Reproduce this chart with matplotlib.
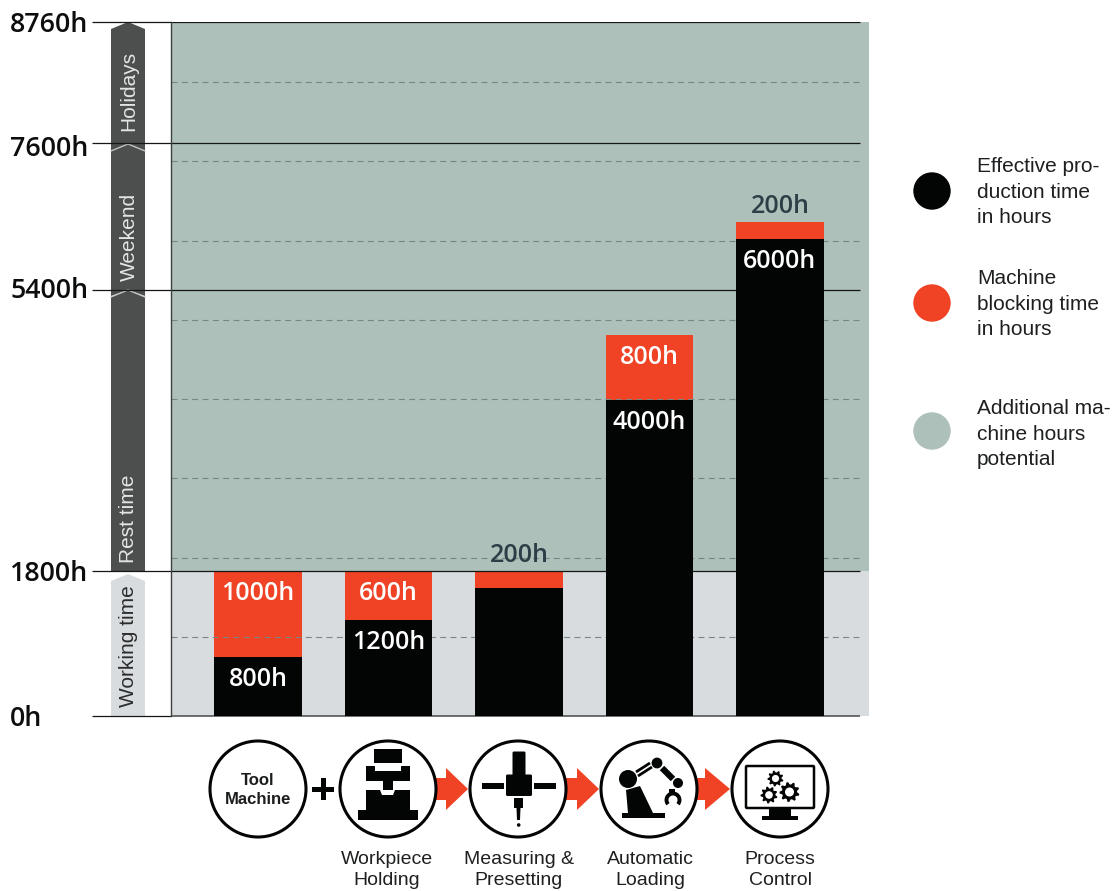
import numpy as np
import matplotlib
matplotlib.use('Agg')
import matplotlib.pyplot as plt
from matplotlib.patches import Circle, Polygon, FancyBboxPatch, Arc

# values (the hour axis is not quite true to its labels)
stations = ['Tool Machine', 'Workpiece Holding', 'Measuring & Presetting', 'Automatic Loading', 'Process Control']
effective = [745, 1212, 1616, 3989, 6021]
blocking = [1085, 618, 214, 820, 215]
effective_labels = ['800h', '1200h', '', '4000h', '6000h']
blocking_labels = ['1000h', '600h', '200h', '800h', '200h']
blocking_label_above = [False, False, True, False, True]

levels = [0, 1830, 5377, 7233, 8760]
level_labels = ['0h', '1800h', '5400h', '7600h', '8760h']
level_nudge = [-3, -3, -1, -6, -3]
grid_hours = [1000, 2000, 3000, 4000, 5000, 6000, 7000, 8000]

BLACK = '#030404'
RED = '#f04224'
GREEN = '#adc0b9'
GREY = '#d9dcdf'
DARK = '#4d4f4e'

W, H = 1116, 891
fig = plt.figure(figsize=(W / 100, H / 100), dpi=100)

# background layer in pixel coordinates, for everything that is not on the hour scale
bg = fig.add_axes([0, 0, 1, 1], zorder=0)
bg.set_xlim(0, W)
bg.set_ylim(H, 0)
bg.axis('off')

# main chart: bars are 130.5 px apart, first one centred on x=258
left, right, top, bottom = 171, 869, 22, 716
ax = fig.add_axes([left / W, 1 - bottom / H, (right - left) / W, (bottom - top) / H], zorder=1)
ax.patch.set_visible(False)
xmin = (left - 258) / 130.5
xmax = (right - 258) / 130.5
xline = (860.5 - 258) / 130.5
ax.set_xlim(xmin, xmax)
ax.set_ylim(0, 8760)

ax.axhspan(0, levels[1], color=GREY, lw=0, zorder=0)
ax.axhspan(levels[1], 8760, color=GREEN, lw=0, zorder=0)
ax.hlines(grid_hours, xmin, xline, colors='#7b8583', lw=0.8, linestyles=(0, (5.4, 3.9)), zorder=2)
ax.hlines(levels[1:], xmin, xline, colors='#151717', lw=0.9, zorder=2)
ax.hlines(0, xmin, xline, colors='#555', lw=1.2, zorder=2, clip_on=False)

x = np.arange(len(stations))
ax.bar(x, effective, width=0.674, color=BLACK, zorder=3)
ax.bar(x, blocking, width=0.674, bottom=effective, color=RED, zorder=1)

for i in x:
    val_font = dict(family='Open Sans', weight='semibold', fontsize=18, ha='center', va='center')
    if effective_labels[i]:
        ax.annotate(effective_labels[i], (i, effective[i]), xytext=(0, -16.5), textcoords='offset points',
                    color='white', zorder=5, **val_font)
    tip = effective[i] + blocking[i]
    if blocking_label_above[i]:
        ax.annotate(blocking_labels[i], (i, tip), xytext=(0, 11), textcoords='offset points',
                    color='#2c3f47', zorder=5, **val_font)
    else:
        ax.annotate(blocking_labels[i], (i, tip), xytext=(0, -16.5), textcoords='offset points',
                    color='white', zorder=5, **val_font)

for s in ['top', 'right', 'bottom']:
    ax.spines[s].set_visible(False)
ax.spines['left'].set_color('#3c4040')
ax.spines['left'].set_linewidth(1)
ax.set_xticks([])
ax.set_yticks(levels)
ax.set_yticklabels([])
ax.tick_params(axis='y', length=57, width=0.9, color='#151717')

for lev, lab, nudge in zip(levels, level_labels, level_nudge):
    ax.annotate(lab, (0, lev), xycoords=ax.get_yaxis_transform(),
                xytext=(10 - left, nudge), textcoords='offset pixels',
                family='Open Sans', weight='semibold', fontsize=19.3, color='#0c0d0d',
                ha='left', va='center', annotation_clip=False)

# time column on the left
def column(y_top, y_bottom, notch, color):
    pts = [(111, y_top + 7), (128, y_top), (145, y_top + 7), (145, y_bottom + notch), (128, y_bottom), (111, y_bottom + notch)]
    bg.add_patch(Polygon(pts, closed=True, fc=color, ec='none'))

column(22, 144, 7, DARK)
column(144, 290, 6, DARK)
column(290, 571, 0, DARK)
column(574, 716, 0, GREY)
for yy in [144, 290]:
    bg.plot([111, 128, 145], [yy + 7, yy, yy + 7], color='#c9cbca', lw=0.9)

side_font = dict(family='Liberation Sans', fontsize=15, rotation=90, ha='center', va='center')
bg.text(129, 91, 'Holidays', color='#e4e6e5', **side_font)
bg.text(129, 237, 'Weekend', color='#e4e6e5', **side_font)
bg.text(129, 519, 'Rest time', color='#e4e6e5', **side_font)
bg.text(129, 646, 'Working time', color='#2a2c2d', **side_font)

# legend
legend_y = [191, 303, 431]
legend_text_y = [192, 304, 434]
legend_colors = [BLACK, RED, GREEN]
legend_text = ['Effective pro-\nduction time\nin hours', 'Machine\nblocking time\nin hours', 'Additional ma-\nchine hours\npotential']
for yy, ty, col, txt in zip(legend_y, legend_text_y, legend_colors, legend_text):
    bg.add_patch(Circle((932, yy), 18.7, fc=col, ec='none'))
    bg.text(977, ty, txt, family='Liberation Sans', fontsize=15, color='#1d1f20',
            ha='left', va='center', linespacing=1.42)

# process icons
cy = 789
centers = [258, 388, 518, 649, 780]

# arrows between the stations: (start, head base, tip)
for x0, xb, xt in [(434, 446, 468), (564, 577, 599), (695, 705, 730)]:
    pts = [(x0, cy - 11), (xb, cy - 11), (xb, cy - 21), (xt, cy), (xb, cy + 21), (xb, cy + 11), (x0, cy + 11)]
    bg.add_patch(Polygon(pts, closed=True, fc=RED, ec='none', zorder=1))

for c in centers:
    bg.add_patch(Circle((c, cy), 48, fc='white', ec=BLACK, lw=2.2, zorder=2))

def poly(cx, pts, color=BLACK, z=3):
    bg.add_patch(Polygon([(cx + a, cy + b) for a, b in pts], closed=True, fc=color, ec='none', zorder=z))

def box(cx, x0, y0, x1, y1, color=BLACK, z=3):
    poly(cx, [(x0, y0), (x1, y0), (x1, y1), (x0, y1)], color, z)

# Tool Machine
bg.text(258, 790, 'Tool\nMachine', family='Liberation Sans', weight='bold', fontsize=12, color='#1b1c1d',
        ha='center', va='center', linespacing=1.35, zorder=4)

# plus sign
box(323, -11, -2.5, 11, 2.5)
box(323, -2.5, -11, 2.5, 11)

# workpiece holding
c = centers[1]
box(c, -14, -40, 14, -26)
poly(c, [(-22, -23), (-13, -23), (-13, -18), (13, -18), (13, -23), (22, -23), (22, -8), (5, -8), (5, 1), (-5, 1), (-5, -8), (-22, -8)])
poly(c, [(-22, 1), (-8, 1), (-6, 6), (5, 6), (7, 1), (22, 1), (22, 21), (30, 21), (30, 31), (-30, 31), (-30, 21), (-22, 21)])

# measuring
c = centers[2]
bg.add_patch(FancyBboxPatch((c - 4, cy - 36), 10, 22, boxstyle='round,pad=1.5', fc=BLACK, ec='none', zorder=3))
bg.add_patch(FancyBboxPatch((c - 10.5, cy - 13), 23, 18.5, boxstyle='round,pad=1.5', fc=BLACK, ec='none', zorder=3))
box(c, -36, -6, -14, 0)
box(c, 16, -6, 38, 0)
box(c, -4, 9, 5, 19)
poly(c, [(-1.5, 19), (2.5, 19), (2, 31), (-1, 31)])
bg.add_patch(Circle((c + 0.7, cy + 36), 1.8, fc=BLACK, ec='none', zorder=3))

# robot arm
c = centers[3]
def link(p0, p1, lw):
    bg.plot([c + p0[0], c + p1[0]], [cy + p0[1], cy + p1[1]], color=BLACK, lw=lw, solid_capstyle='butt', zorder=3)

box(c, -27, 24, 16, 29)
poly(c, [(-23, 1), (-9, -3), (4, 24), (-21, 24)])
bg.add_patch(Circle((c - 21, cy - 10), 9, fc=BLACK, ec='none', zorder=3))
link((-13, -17), (1, -26), 2)
link((-11, -13), (3, -22), 2)
bg.add_patch(Circle((c + 8, cy - 26), 5.4, fc=BLACK, ec='none', zorder=3))
link((13, -21), (24, -10), 4.5)
bg.add_patch(Circle((c + 29, cy - 6), 5, fc=BLACK, ec='none', zorder=3))
bg.add_patch(Arc((c + 24, cy + 11), 13, 13, theta1=140, theta2=400, lw=2.8, color=BLACK, zorder=3))
box(c, 20, 0, 26, 5)

# process control monitor
c = centers[4]
bg.add_patch(FancyBboxPatch((c - 33, cy - 22), 66, 40, boxstyle='round,pad=1', fc='white', ec=BLACK, lw=1.8, zorder=3))
box(c, -11, 19, 11, 27)
box(c, -18, 27, 18, 31)

def gear(gx, gy, r, teeth=9):
    ang = np.linspace(0, 2 * np.pi, teeth * 4, endpoint=False) + 0.2
    rad = np.tile([r, r, r * 0.76, r * 0.76], teeth)
    bg.add_patch(Polygon(np.c_[gx + rad * np.cos(ang), gy + rad * np.sin(ang)], closed=True, fc=BLACK, ec='none', zorder=4))
    bg.add_patch(Circle((gx, gy), r * 0.45, fc='white', ec='none', zorder=5))

gear(c - 4.5, cy - 10.5, 8)
gear(c - 11, cy + 6, 8.5)
gear(c + 9.5, cy + 3, 10)

# captions under the icons
caption_x = [387, 519, 650, 780]
for cx, name in zip(caption_x, stations[1:]):
    first, second = name.rsplit(' ', 1)
    bg.text(cx, 870, first + '\n' + second, family='Liberation Sans', fontsize=14, color='#1d1f20',
            ha='center', va='center', linespacing=1.35)

fig.savefig('out.png', dpi=100)
